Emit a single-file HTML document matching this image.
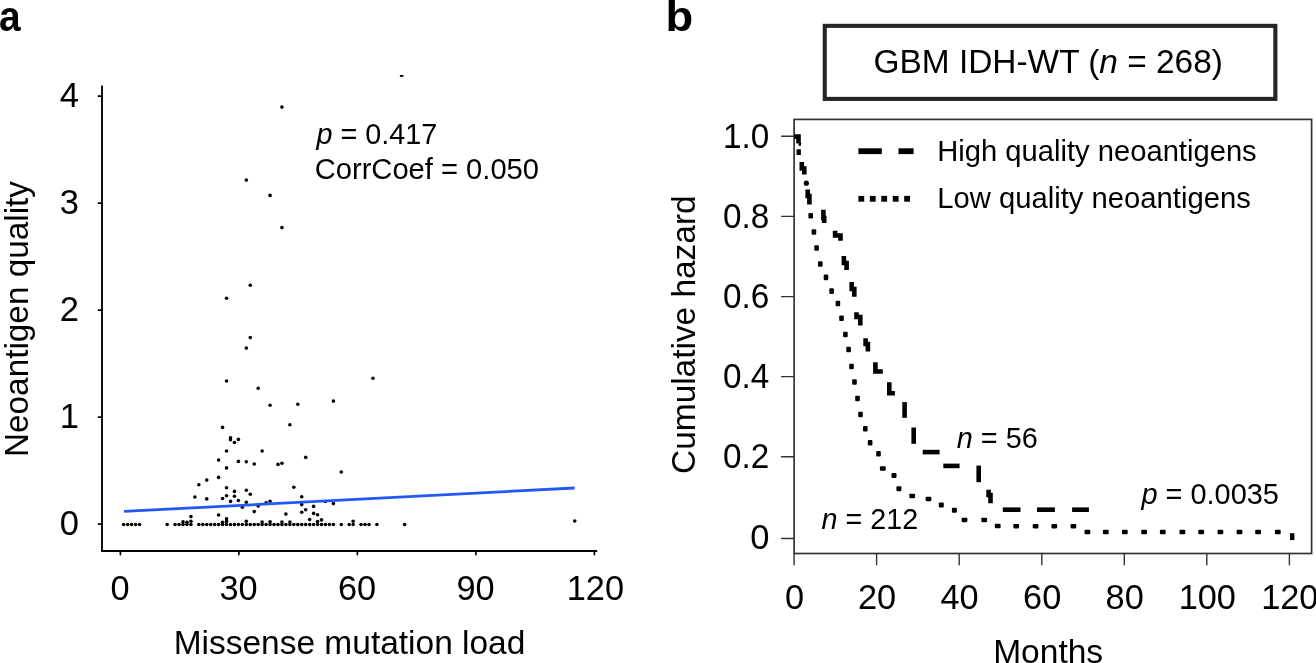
<!DOCTYPE html>
<html><head><meta charset="utf-8"><title>Neoantigen quality figure</title><style>
html,body{margin:0;padding:0;background:#fff;}
body{width:1316px;height:663px;overflow:hidden;position:relative;}
svg{position:absolute;left:0;top:0;will-change:transform;}
text{font-family:"Liberation Sans",sans-serif;fill:#000;}
</style></head><body>
<svg width="1316" height="663" viewBox="0 0 1316 663">

<text id="b" x="665.40" y="31.20" font-size="42.00" font-weight="bold" textLength="27.71" lengthAdjust="spacingAndGlyphs">b</text>
<text id="xlab_a" x="173.70" y="653.50" font-size="34.10" textLength="351.68" lengthAdjust="spacingAndGlyphs">Missense mutation load</text>
<text id="ylab_a" transform="translate(28.30 457.00) rotate(-90)" font-size="34.10" textLength="275.98" lengthAdjust="spacingAndGlyphs">Neoantigen quality</text>
<text id="pa" x="316.55" y="144.00" font-size="28.70" textLength="120.75" lengthAdjust="spacingAndGlyphs"><tspan font-style="italic">p</tspan> = 0.417</text>
<text id="cc" x="314.70" y="178.80" font-size="28.70" textLength="224.35" lengthAdjust="spacingAndGlyphs">CorrCoef = 0.050</text>
<text id="title" x="873.50" y="73.00" font-size="33.30" textLength="349.42" lengthAdjust="spacingAndGlyphs">GBM IDH-WT (<tspan font-style="italic">n</tspan> = 268)</text>
<text id="months" x="993.15" y="662.80" font-size="34.10" textLength="110.00" lengthAdjust="spacingAndGlyphs">Months</text>
<text id="ylab_b" transform="translate(695.40 473.90) rotate(-90)" font-size="34.10" textLength="278.50" lengthAdjust="spacingAndGlyphs">Cumulative hazard</text>
<text id="n56" x="956.80" y="448.20" font-size="28.70" textLength="80.99" lengthAdjust="spacingAndGlyphs"><tspan font-style="italic">n</tspan> = 56</text>
<text id="n212" x="821.50" y="528.60" font-size="28.70" textLength="96.63" lengthAdjust="spacingAndGlyphs"><tspan font-style="italic">n</tspan> = 212</text>
<text id="pb" x="1141.45" y="503.90" font-size="28.70" textLength="137.41" lengthAdjust="spacingAndGlyphs"><tspan font-style="italic">p</tspan> = 0.0035</text>
<text id="leg1" x="937.25" y="160.80" font-size="29.30" textLength="319.46" lengthAdjust="spacingAndGlyphs">High quality neoantigens</text>
<text id="leg2" x="937.25" y="207.90" font-size="29.30" textLength="313.55" lengthAdjust="spacingAndGlyphs">Low quality neoantigens</text>
<text id="a" x="-1.00" y="30.80" font-size="42.50" font-weight="bold" textLength="21.60" lengthAdjust="spacingAndGlyphs">a</text>
<text id="ya_4" x="78.90" y="107.20" font-size="34.50" text-anchor="end">4</text>
<text id="ya_3" x="78.90" y="214.20" font-size="34.50" text-anchor="end">3</text>
<text id="ya_2" x="78.90" y="321.20" font-size="34.50" text-anchor="end">2</text>
<text id="ya_1" x="78.90" y="428.20" font-size="34.50" text-anchor="end">1</text>
<text id="ya_0" x="78.90" y="535.20" font-size="34.50" text-anchor="end">0</text>
<text id="xa_0" x="120.10" y="599.80" font-size="34.30" text-anchor="middle">0</text>
<text id="xa_30" x="238.60" y="599.80" font-size="34.30" text-anchor="middle">30</text>
<text id="xa_60" x="357.10" y="599.80" font-size="34.30" text-anchor="middle">60</text>
<text id="xa_90" x="475.60" y="599.80" font-size="34.30" text-anchor="middle">90</text>
<text id="xa_120" x="595.40" y="599.80" font-size="34.30" text-anchor="middle">120</text>
<text id="yb_1.0" x="769.40" y="147.70" font-size="34.50" textLength="46.30" lengthAdjust="spacingAndGlyphs" text-anchor="end">1.0</text>
<text id="yb_0.8" x="769.40" y="227.90" font-size="34.50" textLength="46.30" lengthAdjust="spacingAndGlyphs" text-anchor="end">0.8</text>
<text id="yb_0.6" x="769.40" y="308.10" font-size="34.50" textLength="46.30" lengthAdjust="spacingAndGlyphs" text-anchor="end">0.6</text>
<text id="yb_0.4" x="769.40" y="388.10" font-size="34.50" textLength="46.30" lengthAdjust="spacingAndGlyphs" text-anchor="end">0.4</text>
<text id="yb_0.2" x="769.40" y="468.20" font-size="34.50" textLength="46.30" lengthAdjust="spacingAndGlyphs" text-anchor="end">0.2</text>
<text id="yb_0" x="769.40" y="549.20" font-size="34.50" text-anchor="end">0</text>
<text id="xb_0" x="794.50" y="608.90" font-size="34.30" text-anchor="middle">0</text>
<text id="xb_20" x="877.05" y="608.90" font-size="34.30" text-anchor="middle">20</text>
<text id="xb_40" x="959.60" y="608.90" font-size="34.30" text-anchor="middle">40</text>
<text id="xb_60" x="1042.15" y="608.90" font-size="34.30" text-anchor="middle">60</text>
<text id="xb_80" x="1124.70" y="608.90" font-size="34.30" text-anchor="middle">80</text>
<text id="xb_100" x="1207.25" y="608.90" font-size="34.30" text-anchor="middle">100</text>
<text id="xb_120" x="1289.80" y="608.90" font-size="34.30" text-anchor="middle">120</text>
<path d="M102 85.4 V551 H597.2" fill="none" stroke="#000" stroke-width="1.85" stroke-linejoin="miter" stroke-linecap="butt"/>
<g stroke="#000" stroke-width="1.7" stroke-linecap="round">
<path d="M98.4 96.1 H102 M98.4 203.1 H102 M98.4 310.1 H102 M98.4 417.1 H102 M98.4 524.1 H102"/>
<path d="M120.40 551 V554.6 M238.90 551 V554.6 M357.40 551 V554.6 M475.90 551 V554.6 M594.40 551 V554.6"/>
</g>
<g fill="#000">
<circle cx="123.66" cy="524.50" r="1.8"/><circle cx="127.61" cy="524.50" r="1.8"/><circle cx="131.57" cy="524.50" r="1.8"/><circle cx="135.53" cy="524.50" r="1.8"/><circle cx="139.49" cy="524.50" r="1.8"/><circle cx="167.18" cy="524.50" r="1.8"/><circle cx="175.10" cy="524.50" r="1.8"/><circle cx="179.06" cy="524.50" r="1.8"/><circle cx="183.01" cy="524.50" r="1.8"/><circle cx="186.97" cy="524.50" r="1.8"/><circle cx="190.93" cy="524.50" r="1.8"/><circle cx="198.84" cy="524.50" r="1.8"/><circle cx="202.80" cy="524.50" r="1.8"/><circle cx="206.75" cy="524.50" r="1.8"/><circle cx="210.71" cy="524.50" r="1.8"/><circle cx="214.67" cy="524.50" r="1.8"/><circle cx="218.62" cy="524.50" r="1.8"/><circle cx="222.58" cy="524.50" r="1.8"/><circle cx="226.54" cy="524.50" r="1.8"/><circle cx="230.50" cy="524.50" r="1.8"/><circle cx="234.45" cy="524.50" r="1.8"/><circle cx="238.41" cy="524.50" r="1.8"/><circle cx="242.37" cy="524.50" r="1.8"/><circle cx="246.32" cy="524.50" r="1.8"/><circle cx="250.28" cy="524.50" r="1.8"/><circle cx="254.24" cy="524.50" r="1.8"/><circle cx="258.19" cy="524.50" r="1.8"/><circle cx="262.15" cy="524.50" r="1.8"/><circle cx="266.11" cy="524.50" r="1.8"/><circle cx="270.07" cy="524.50" r="1.8"/><circle cx="274.02" cy="524.50" r="1.8"/><circle cx="277.98" cy="524.50" r="1.8"/><circle cx="281.94" cy="524.50" r="1.8"/><circle cx="285.89" cy="524.50" r="1.8"/><circle cx="289.85" cy="524.50" r="1.8"/><circle cx="293.81" cy="524.50" r="1.8"/><circle cx="297.76" cy="524.50" r="1.8"/><circle cx="301.72" cy="524.50" r="1.8"/><circle cx="305.68" cy="524.50" r="1.8"/><circle cx="309.64" cy="524.50" r="1.8"/><circle cx="313.59" cy="524.50" r="1.8"/><circle cx="317.55" cy="524.50" r="1.8"/><circle cx="321.51" cy="524.50" r="1.8"/><circle cx="325.46" cy="524.50" r="1.8"/><circle cx="329.42" cy="524.50" r="1.8"/><circle cx="333.38" cy="524.50" r="1.8"/><circle cx="341.29" cy="524.50" r="1.8"/><circle cx="349.21" cy="524.50" r="1.8"/><circle cx="353.16" cy="524.50" r="1.8"/><circle cx="361.08" cy="524.50" r="1.8"/><circle cx="365.03" cy="524.50" r="1.8"/><circle cx="368.99" cy="524.50" r="1.8"/><circle cx="376.90" cy="524.50" r="1.8"/><circle cx="404.60" cy="524.50" r="1.8"/><circle cx="183.01" cy="521.90" r="1.8"/><circle cx="186.97" cy="522.30" r="1.8"/><circle cx="190.93" cy="521.20" r="1.8"/><circle cx="190.93" cy="516.60" r="1.8"/><circle cx="222.58" cy="522.30" r="1.8"/><circle cx="226.54" cy="521.40" r="1.8"/><circle cx="246.32" cy="521.20" r="1.8"/><circle cx="262.15" cy="522.00" r="1.8"/><circle cx="270.07" cy="521.90" r="1.8"/><circle cx="281.94" cy="522.00" r="1.8"/><circle cx="289.85" cy="522.00" r="1.8"/><circle cx="317.55" cy="521.50" r="1.8"/><circle cx="353.16" cy="521.20" r="1.8"/><circle cx="321.51" cy="519.90" r="1.8"/><circle cx="309.64" cy="519.50" r="1.8"/><circle cx="218.62" cy="515.00" r="1.8"/><circle cx="226.54" cy="518.70" r="1.8"/><circle cx="281.94" cy="107.10" r="1.8"/><circle cx="246.32" cy="180.10" r="1.8"/><circle cx="270.07" cy="195.40" r="1.8"/><circle cx="281.94" cy="227.60" r="1.8"/><circle cx="250.28" cy="285.20" r="1.8"/><circle cx="226.54" cy="298.20" r="1.8"/><circle cx="250.28" cy="337.60" r="1.8"/><circle cx="246.32" cy="348.10" r="1.8"/><circle cx="226.54" cy="381.00" r="1.8"/><circle cx="258.19" cy="388.30" r="1.8"/><circle cx="270.07" cy="405.30" r="1.8"/><circle cx="297.76" cy="404.20" r="1.8"/><circle cx="222.58" cy="427.40" r="1.8"/><circle cx="289.85" cy="424.70" r="1.8"/><circle cx="230.50" cy="437.70" r="1.8"/><circle cx="230.50" cy="439.80" r="1.8"/><circle cx="234.45" cy="442.50" r="1.8"/><circle cx="238.41" cy="439.40" r="1.8"/><circle cx="372.95" cy="378.30" r="1.8"/><circle cx="333.38" cy="401.10" r="1.8"/><circle cx="226.54" cy="451.00" r="1.8"/><circle cx="218.62" cy="460.10" r="1.8"/><circle cx="238.41" cy="461.40" r="1.8"/><circle cx="226.54" cy="467.90" r="1.8"/><circle cx="218.62" cy="477.40" r="1.8"/><circle cx="206.75" cy="480.10" r="1.8"/><circle cx="198.84" cy="484.80" r="1.8"/><circle cx="226.54" cy="487.70" r="1.8"/><circle cx="234.45" cy="491.40" r="1.8"/><circle cx="226.54" cy="495.70" r="1.8"/><circle cx="234.45" cy="496.30" r="1.8"/><circle cx="194.88" cy="497.00" r="1.8"/><circle cx="206.75" cy="498.90" r="1.8"/><circle cx="222.58" cy="498.50" r="1.8"/><circle cx="238.41" cy="500.50" r="1.8"/><circle cx="262.15" cy="451.00" r="1.8"/><circle cx="305.68" cy="457.40" r="1.8"/><circle cx="246.32" cy="461.70" r="1.8"/><circle cx="254.24" cy="464.00" r="1.8"/><circle cx="277.98" cy="464.40" r="1.8"/><circle cx="281.94" cy="463.30" r="1.8"/><circle cx="293.81" cy="487.30" r="1.8"/><circle cx="246.32" cy="490.20" r="1.8"/><circle cx="250.28" cy="494.30" r="1.8"/><circle cx="301.72" cy="496.80" r="1.8"/><circle cx="341.29" cy="472.00" r="1.8"/><circle cx="230.50" cy="501.40" r="1.8"/><circle cx="246.32" cy="502.30" r="1.8"/><circle cx="242.37" cy="507.20" r="1.8"/><circle cx="254.24" cy="511.60" r="1.8"/><circle cx="258.19" cy="506.00" r="1.8"/><circle cx="266.11" cy="502.90" r="1.8"/><circle cx="270.07" cy="501.20" r="1.8"/><circle cx="285.89" cy="514.10" r="1.8"/><circle cx="301.72" cy="504.60" r="1.8"/><circle cx="301.72" cy="512.30" r="1.8"/><circle cx="305.68" cy="509.80" r="1.8"/><circle cx="313.59" cy="506.40" r="1.8"/><circle cx="313.59" cy="513.40" r="1.8"/><circle cx="317.55" cy="514.80" r="1.8"/><circle cx="333.38" cy="503.60" r="1.8"/><circle cx="325.46" cy="501.50" r="1.8"/><circle cx="574.75" cy="521.00" r="1.8"/>
<rect x="399.9" y="75" width="3.5" height="1.8"/>
</g>
<line x1="124.1" y1="511.4" x2="574.6" y2="488.0" stroke="#2458f5" stroke-width="2.8"/>
<rect x="824.75" y="25.85" width="450.6" height="73.05" fill="none" stroke="#252525" stroke-width="4.1"/>
<rect x="794.1" y="119.4" width="517.5" height="434.1" fill="none" stroke="#333" stroke-width="1.7"/>
<g stroke="#333" stroke-width="1.4">
<path d="M781.1 136.2 H794.1 M781.1 216.4 H794.1 M781.1 296.6 H794.1 M781.1 376.6 H794.1 M781.1 456.7 H794.1 M781.1 538.5 H794.1"/>
<path d="M794.1 553.5 V565.3 M876.6 553.5 V565.3 M959.2 553.5 V565.3 M1041.8 553.5 V565.3 M1124.3 553.5 V565.3 M1206.8 553.5 V565.3 M1289.4 553.5 V565.3"/>
</g>
<g fill="#000">
<rect x="858.4" y="148.3" width="23.4" height="5.8"/><rect x="898.5" y="148.3" width="15.1" height="5.8"/>
<rect x="858.40" y="195.9" width="5.8" height="5.8"/><rect x="869.85" y="195.9" width="5.8" height="5.8"/><rect x="881.30" y="195.9" width="5.8" height="5.8"/><rect x="892.75" y="195.9" width="5.8" height="5.8"/><rect x="904.20" y="195.9" width="5.8" height="5.8"/>
</g>
<g fill="#000">
<rect x="811.60" y="229.20" width="4.6" height="5.6" rx="1.1"/><rect x="814.30" y="245.20" width="4.6" height="5.6" rx="1.1"/><rect x="818.00" y="261.20" width="4.6" height="5.6" rx="1.1"/><rect x="823.70" y="274.60" width="4.6" height="5.6" rx="1.1"/><rect x="829.30" y="288.30" width="4.6" height="5.6" rx="1.1"/><rect x="835.60" y="300.70" width="4.6" height="5.6" rx="1.1"/><rect x="839.20" y="315.50" width="4.6" height="5.6" rx="1.1"/><rect x="843.10" y="331.70" width="4.6" height="5.6" rx="1.1"/><rect x="846.30" y="346.70" width="4.6" height="5.6" rx="1.1"/><rect x="849.20" y="363.70" width="4.6" height="5.6" rx="1.1"/><rect x="852.20" y="379.20" width="4.6" height="5.6" rx="1.1"/><rect x="855.20" y="395.70" width="4.6" height="5.6" rx="1.1"/><rect x="858.20" y="411.70" width="4.6" height="5.6" rx="1.1"/><rect x="863.00" y="425.90" width="4.6" height="5.6" rx="1.1"/><rect x="867.80" y="440.00" width="4.6" height="5.6" rx="1.1"/><rect x="876.20" y="450.90" width="4.6" height="5.6" rx="1.1"/><rect x="879.90" y="466.25" width="5.8" height="4.5" rx="1.1"/><rect x="891.50" y="473.10" width="5.0" height="5.0" rx="1.1"/><rect x="896.40" y="486.20" width="5.0" height="5.0" rx="1.1"/><rect x="909.30" y="493.65" width="5.8" height="4.5" rx="1.1"/><rect x="925.60" y="496.65" width="5.8" height="4.5" rx="1.1"/><rect x="938.80" y="502.50" width="5.0" height="5.0" rx="1.1"/><rect x="951.90" y="507.80" width="5.0" height="5.0" rx="1.1"/><rect x="961.60" y="517.65" width="5.8" height="4.5" rx="1.1"/><rect x="981.30" y="517.65" width="5.8" height="4.5" rx="1.1"/><rect x="994.80" y="523.75" width="5.8" height="4.5" rx="1.1"/><rect x="1013.30" y="523.95" width="5.8" height="4.5" rx="1.1"/><rect x="1032.70" y="523.95" width="5.8" height="4.5" rx="1.1"/><rect x="1051.40" y="523.95" width="5.8" height="4.5" rx="1.1"/><rect x="1070.50" y="523.95" width="5.8" height="4.5" rx="1.1"/><rect x="1084.50" y="529.85" width="5.8" height="4.5" rx="1.1"/><rect x="1102.90" y="529.75" width="5.8" height="4.5" rx="1.1"/><rect x="1121.90" y="529.75" width="5.8" height="4.5" rx="1.1"/><rect x="1141.20" y="529.75" width="5.8" height="4.5" rx="1.1"/><rect x="1159.90" y="529.75" width="5.8" height="4.5" rx="1.1"/><rect x="1179.50" y="529.75" width="5.8" height="4.5" rx="1.1"/><rect x="1198.30" y="529.75" width="5.8" height="4.5" rx="1.1"/><rect x="1217.50" y="529.75" width="5.8" height="4.5" rx="1.1"/><rect x="1236.60" y="529.75" width="5.8" height="4.5" rx="1.1"/><rect x="1255.20" y="529.75" width="5.8" height="4.5" rx="1.1"/><rect x="1274.90" y="529.75" width="5.8" height="4.5" rx="1.1"/><rect x="808.40" y="212.90" width="4.6" height="5.6" rx="1.1"/>
<rect x="1290" y="533.2" width="4.4" height="6.9"/>
</g>
<path d="M794.5 136.6 L798.5 136.6 L798.5 143.5" fill="none" stroke="#000" stroke-width="4.6" stroke-linejoin="miter"/>
<path d="M798.7 144.0 L801.0 144.5" fill="none" stroke="#000" stroke-width="3" stroke-linejoin="miter"/>
<rect x="796.5" y="149.3" width="4.4" height="5.7" fill="#000"/>
<path d="M801.8 162.0 L801.8 168.5 L804.3 168.5 L804.3 174.6" fill="none" stroke="#000" stroke-width="4.6" stroke-linejoin="miter"/>
<circle cx="806.3" cy="183.2" r="2.6" fill="#000"/>
<path d="M807.7 189.5 L807.7 196.0 L809.4 196.0 L809.4 204.4" fill="none" stroke="#000" stroke-width="4.6" stroke-linejoin="miter"/>
<path d="M823.4 209.7 L823.4 218.0 L824.2 218.0 L824.2 222.9" fill="none" stroke="#000" stroke-width="4.6" stroke-linejoin="miter"/>
<path d="M835.1 230.8 L835.1 235.5 L840.5 235.5 L840.5 240.8" fill="none" stroke="#000" stroke-width="4.6" stroke-linejoin="miter"/>
<path d="M843.9 256.1 L843.9 263.0 L846.6 263.0 L846.6 270.0" fill="none" stroke="#000" stroke-width="4.6" stroke-linejoin="miter"/>
<path d="M851.7 282.0 L851.7 289.0 L854.3 289.0 L854.3 296.8" fill="none" stroke="#000" stroke-width="4.6" stroke-linejoin="miter"/>
<path d="M856.5 312.2 L856.5 317.0 L860.3 317.0 L860.3 325.5" fill="none" stroke="#000" stroke-width="4.6" stroke-linejoin="miter"/>
<path d="M865.6 338.2 L865.6 344.0 L867.9 344.0 L867.9 351.5" fill="none" stroke="#000" stroke-width="4.6" stroke-linejoin="miter"/>
<path d="M875.4 362.3 L875.4 371.5 L882.8 371.5" fill="none" stroke="#000" stroke-width="4.6" stroke-linejoin="miter"/>
<path d="M889.3 382.2 L889.3 393.2 L894.9 393.2" fill="none" stroke="#000" stroke-width="4.6" stroke-linejoin="miter"/>
<path d="M904.6 402.1 L904.6 417.8" fill="none" stroke="#000" stroke-width="4.6" stroke-linejoin="miter"/>
<path d="M913.7 427.5 L913.7 443.8" fill="none" stroke="#000" stroke-width="4.6" stroke-linejoin="miter"/>
<path d="M922.7 452.1 L939.6 452.1" fill="none" stroke="#000" stroke-width="4.6" stroke-linejoin="miter"/>
<path d="M943.3 465.9 L959.6 465.9" fill="none" stroke="#000" stroke-width="4.6" stroke-linejoin="miter"/>
<path d="M978.7 465.6 L978.7 482.2" fill="none" stroke="#000" stroke-width="4.6" stroke-linejoin="miter"/>
<path d="M988.6 489.8 L988.6 495.0 L990.5 495.0 L990.5 503.3" fill="none" stroke="#000" stroke-width="4.6" stroke-linejoin="miter"/>
<path d="M1002.8 509.7 L1020.5 509.7" fill="none" stroke="#000" stroke-width="4.6" stroke-linejoin="miter"/>
<path d="M1037.0 509.7 L1054.9 509.7" fill="none" stroke="#000" stroke-width="4.6" stroke-linejoin="miter"/>
<path d="M1072.1 509.7 L1088.9 509.7" fill="none" stroke="#000" stroke-width="4.6" stroke-linejoin="miter"/>
</svg>
</body></html>
